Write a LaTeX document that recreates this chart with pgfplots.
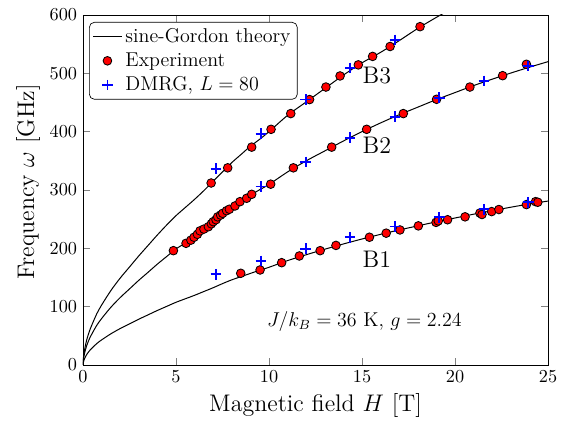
\documentclass[border=0pt]{standalone}
\usepackage{pgfplots}
\pgfplotsset{compat=1.18}
\begin{document}
\begin{tikzpicture}
\begin{axis}[
  scale only axis, width=279pt, height=210pt,
  xmin=0, xmax=25, ymin=0, ymax=600,
  xtick={0,5,...,25}, ytick={0,100,...,600},
  tick label style={font=\fontsize{11}{13}\selectfont},
  xlabel={Magnetic field $H$ [T]},
  ylabel={Frequency $\omega$ [GHz]},
  label style={font=\Large},
  ylabel style={at={(axis description cs:-0.118,0.523)}, anchor=center},
  xlabel style={at={(axis description cs:0.5,-0.115)}, anchor=center},
  legend style={at={(0.013,0.98)}, anchor=north west, draw=black,
    rounded corners=3pt, font=\large, inner xsep=2pt, inner ysep=1.5pt, row sep=0.8pt},
  legend cell align=left,
  clip=true,
]
% sine-Gordon theory
\addplot[black, line width=0.6pt, smooth] coordinates {
(0,0) (0.02,4.5) (0.05,8) (0.1,12) (0.2,18) (0.35,24.5) (0.5,29.5) (0.75,37) (1,43)
(1.5,53.5) (2,62.5) (2.5,70.5) (3,78.5) (3.5,86) (4,93.5) (4.5,100.5) (5,107.5)
(5.5,113.5) (6,119.5) (6.5,126) (7,132.5) (7.5,139.5) (8,146) (8.5,151.5) (9,157)
(9.5,162.5) (10,167.5) (11,179) (12,189) (13,198.5) (14,207.5) (15,216) (16,224)
(17,231.5) (18,238.5) (19,245.5) (20,252) (21,258.5) (22,264.5) (23,270.5) (24,276) (25,281)};
\addlegendentry{sine-Gordon theory}
\addplot[black, line width=0.6pt, smooth, forget plot] coordinates {
(0,0) (0.02,8.3) (0.05,14.8) (0.1,22.2) (0.2,33.3) (0.35,45.3) (0.5,54.6) (0.75,68.5) (1,79.6)
(1.5,99) (2,115.6) (2.5,130.4) (3,145.2) (3.5,159) (4,173) (4.5,186) (5,199)
(5.5,209) (6,219.5) (6.5,232) (7,245) (7.5,258) (8,270) (8.5,280.5) (9,291)
(9.5,300.5) (10,309.5) (11,331) (12,350) (13,367) (14,384) (15,400) (16,415)
(17,429) (18,442) (19,455) (20,467) (21,479) (22,490) (23,500.5) (24,510.5) (25,520)};
\addplot[black, line width=0.6pt, smooth, forget plot] coordinates {
(0,0) (0.02,10.7) (0.05,19.1) (0.1,28.6) (0.2,43) (0.35,58.4) (0.5,70.4) (0.75,88.4) (1,102.7)
(1.5,127.7) (2,149) (2.5,168) (3,187) (3.5,205) (4,223) (4.5,240) (5,256)
(5.5,270) (6,284) (6.5,299) (7,315) (7.5,331) (8,347) (8.5,361) (9,375)
(9.5,387) (10,400) (11,428) (12,451) (13,474) (14,497) (15,518) (16,536)
(17,556) (18,577) (19,596) (19.5,605) (20,614)};
% Experiment
\addplot[only marks, mark=*, mark size=2.6pt, mark options={fill=red, draw=black, line width=0.5pt}] coordinates {
(8.48,157.2) (9.52,162.9) (10.68,175.4) (11.63,186.9) (12.75,196) (13.6,205) (15.4,219) (16.3,226)
(17.04,231.5) (18.03,238.5) (18.98,244.5) (19.1,247) (19.6,249) (20.54,254) (21.34,260.5) (21.45,258)
(21.97,263) (22.36,266.5) (23.84,275) (24.33,280) (24.45,279)
(4.86,196) (5.54,208.6) (5.8,214) (5.97,219) (6.15,224) (6.29,230) (6.5,233) (6.74,237) (6.9,242)
(7.0,245.7) (7.15,249) (7.24,254) (7.4,257) (7.51,260) (7.72,264.5) (7.87,267) (8.17,272.6) (8.44,280)
(8.8,285.8) (9.07,292.6) (10.09,310) (11.31,338) (13.37,373.5) (15.25,404) (17.22,431) (19.01,455.5)
(20.8,476.5) (22.56,496) (23.84,515.5)
(6.89,312) (7.78,338) (9.07,373.5) (10.11,404) (11.17,431) (12.18,455) (13.06,476.5) (13.82,495.5)
(14.8,514.5) (15.57,529) (16.51,546) (18.12,580)};
\addlegendentry{Experiment}
% DMRG
\addplot[only marks, mark=+, mark size=3.2pt, blue, line width=1.1pt] coordinates {
(7.15,155.5) (9.57,178.5) (11.97,199.5) (14.36,219) (16.77,237.5) (19.16,253) (21.55,267) (23.94,279)
(9.57,306) (11.97,348) (14.36,389.5) (16.77,425.5) (19.16,458) (21.55,487) (23.94,512.5)
(7.15,336.5) (9.57,396.5) (11.97,455) (14.36,509) (16.77,557) (19.16,601)};
\addlegendentry{DMRG, $L=80$}
\node[font=\Large] at (axis cs:15.8,497) {B3};
\node[font=\Large] at (axis cs:15.8,377) {B2};
\node[font=\Large] at (axis cs:15.8,182) {B1};
\node[font=\large] at (axis cs:15.13,74) {$J/k_B=36$ K, $g=2.24$};
\end{axis}
\pgfresetboundingbox
\path[use as bounding box] (current axis.south west) ++(-49.8pt,-34.2pt) rectangle ([shift={(10.2pt,9pt)}]current axis.north east);
\end{tikzpicture}
\end{document}
